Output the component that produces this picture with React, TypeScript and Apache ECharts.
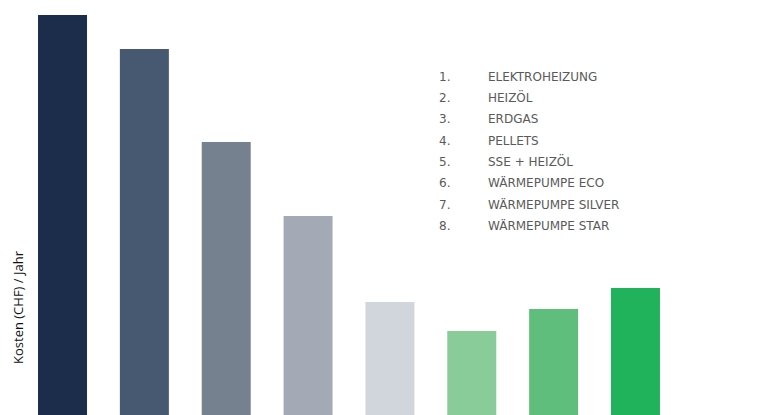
import React, { useEffect, useRef } from "react";
import * as echarts from "echarts";

const categories = [
  "ELEKTROHEIZUNG",
  "HEIZÖL",
  "ERDGAS",
  "PELLETS",
  "SSE + HEIZÖL",
  "WÄRMEPUMPE ECO",
  "WÄRMEPUMPE SILVER",
  "WÄRMEPUMPE STAR",
];
const costs = [400, 366, 273, 199, 113, 84, 106, 127];
const barColors = [
  "#1b2d4b",
  "#475970",
  "#76818f",
  "#a4aab5",
  "#d1d5dc",
  "#8acb9a",
  "#60be7d",
  "#21b35c",
];
const axisName = "Kosten (CHF) / Jahr";

export default function App() {
  const ref = useRef<HTMLDivElement>(null);
  useEffect(() => {
    document.body.style.margin = "0";
    const chart = echarts.init(ref.current!, null, { renderer: "svg" });
    const legendTexts: any[] = [];
    const font = "12px 'DejaVu Sans'";
    categories.forEach((c, i) => {
      const y = 76.7 + i * 21.3;
      legendTexts.push({
        type: "text",
        x: 439,
        y,
        style: { text: `${i + 1}.`, fill: "#5a5a5a", font, verticalAlign: "middle" },
      });
      legendTexts.push({
        type: "text",
        x: 488,
        y,
        style: { text: c, fill: "#5a5a5a", font, verticalAlign: "middle" },
      });
    });
    chart.setOption({
      animation: false,
      grid: { left: 21.6, right: 776 - 676.4, top: 15, bottom: 0, containLabel: false },
      xAxis: {
        type: "category",
        data: categories,
        show: false,
      },
      yAxis: {
        type: "value",
        min: 0,
        max: 400,
        show: false,
      },
      series: [
        {
          type: "bar",
          barWidth: 49,
          data: costs.map((v, i) => ({ value: v, itemStyle: { color: barColors[i] } })),
        },
      ],
      graphic: [
        {
          type: "text",
          x: 18,
          y: 307.5,
          rotation: Math.PI / 2,
          style: {
            text: axisName,
            fill: "#111",
            font: "500 13px 'Open Sans'",
            align: "center",
            verticalAlign: "middle",
          },
        },
        ...legendTexts,
      ],
    });
    return () => chart.dispose();
  }, []);
  return <div ref={ref} style={{ width: 776, height: 415 }} />;
}
